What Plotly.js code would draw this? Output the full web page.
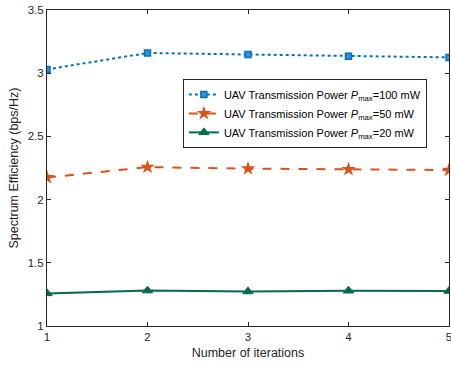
<!DOCTYPE html>
<html>
<head>
<meta charset="utf-8">
<script src="https://cdn.plot.ly/plotly-3.0.1.min.js"></script>
<style>html,body{margin:0;padding:0;background:#fff;}#chart{width:451px;height:368px;}</style>
</head>
<body>
<div id="chart"></div>
<script>
const iterations = [1, 2, 3, 4, 5];
const se100 = [3.03, 3.16, 3.148, 3.135, 3.125];
const se50 = [2.175, 2.257, 2.245, 2.24, 2.234];
const se20 = [1.258, 1.28, 1.273, 1.279, 1.277];
const names = [
  'UAV Transmission Power <i>P</i><sub>max</sub>=100 mW',
  'UAV Transmission Power <i>P</i><sub>max</sub>=50 mW',
  'UAV Transmission Power <i>P</i><sub>max</sub>=20 mW'
];
const xTicks = [1, 2, 3, 4, 5];
const yTicks = [1, 1.5, 2, 2.5, 3, 3.5];
const yTickText = ['1', '1.5', '2', '2.5', '3', '3.5'];

const traces = [
  {x: iterations, y: se100, name: names[0], mode: 'lines+markers',
   line: {color: '#0072BD', width: 2, dash: 'dot'},
   marker: {symbol: 'square', size: 6, color: '#3a8fd0', line: {color: '#0072BD', width: 1.5}}},
  {x: iterations, y: se50, name: names[1], mode: 'lines+markers',
   line: {color: '#D95319', width: 2, dash: 'dash'},
   marker: {symbol: 'star', size: 11, color: '#D95319', line: {color: '#D95319', width: 0}}},
  {x: iterations, y: se20, name: names[2], mode: 'lines+markers',
   line: {color: '#006B4C', width: 2, dash: 'solid'},
   marker: {symbol: 'triangle-up', size: 9, color: '#006B4C', line: {color: '#006B4C', width: 1}}}
];

const axisCommon = {
  showgrid: false, zeroline: false, showline: true, linecolor: '#262626', linewidth: 1,
  mirror: 'ticks', ticks: 'inside', ticklen: 4, tickcolor: '#262626',
  ticklabeloverflow: 'allow',
  tickfont: {family: 'Liberation Sans, Arial, sans-serif', size: 11.5, color: '#262626'}
};

const layout = {
  width: 451, height: 368,
  margin: {l: 47, r: 2, t: 10, b: 42},
  paper_bgcolor: '#ffffff', plot_bgcolor: '#ffffff',
  showlegend: true,
  xaxis: Object.assign({}, axisCommon, {
    range: [1, 5], tickvals: xTicks, ticktext: xTicks.map(String),
    title: {text: 'Number of iterations', standoff: 6,
      font: {family: 'Liberation Sans, Arial, sans-serif', size: 12.5, color: '#262626'}}
  }),
  yaxis: Object.assign({}, axisCommon, {
    range: [1, 3.5], tickvals: yTicks, ticktext: yTickText,
    title: {text: 'Spectrum Efficiency (bps/Hz)', standoff: 6,
      font: {family: 'Liberation Sans, Arial, sans-serif', size: 12.5, color: '#262626'}}
  }),
  legend: {
    x: 0.338, y: 0.782, xanchor: 'left', yanchor: 'top',
    bgcolor: '#ffffff', bordercolor: '#262626', borderwidth: 1,
    font: {family: 'Liberation Sans, Arial, sans-serif', size: 11, color: '#000000'},
    tracegroupgap: 0, itemwidth: 30
  }
};

Plotly.newPlot('chart', traces, layout, {displayModeBar: false, staticPlot: true});
</script>
</body>
</html>
